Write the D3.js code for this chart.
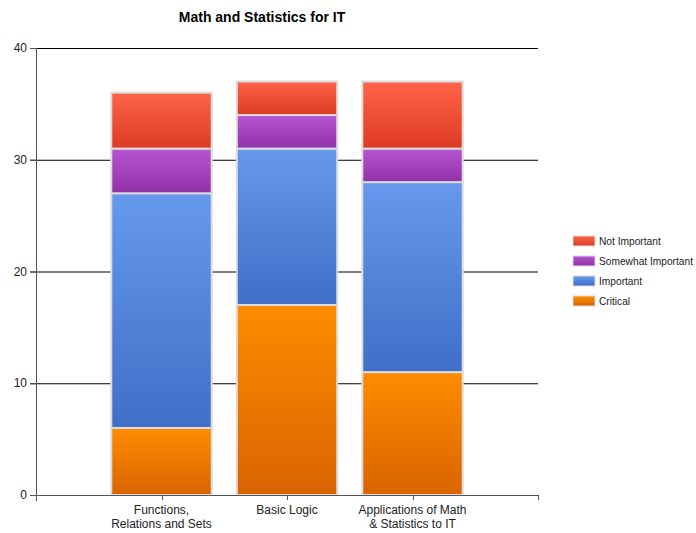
<html>
<style>
  body { margin: 0; background: #fff; font-family: "Liberation Sans", Arial, sans-serif; }
  .grid line { stroke: #000; }
  .axis text { font-size: 12px; fill: #222; }
</style>
<script src="https://d3js.org/d3.v7.min.js"></script>
<body>
<svg id="chart" width="696" height="533"></svg>
</body>
<script>
  const categories = ["Functions,\nRelations and Sets", "Basic Logic", "Applications of Math\n& Statistics to IT"]
  const series = ["Critical", "Important", "Somewhat Important", "Not Important"]
  const critical = [6, 17, 11]
  const important = [21, 14, 17]
  const somewhat = [4, 3, 3]
  const notImportant = [5, 3, 6]
  const yTicks = [0, 10, 20, 30, 40]

  const colors = {
    "Critical": ["#ff8c00", "#d96400"],
    "Important": ["#6699ee", "#3f6fc6"],
    "Somewhat Important": ["#b755d2", "#9230a8"],
    "Not Important": ["#ff6448", "#dc3b22"]
  }

  let svg = d3.select('#chart')
  let mLeft = 36, mRight = 538, mTop = 48, mBottom = 495

  let rows = categories.map((c, i) => ({
    cat: c,
    "Critical": critical[i],
    "Important": important[i],
    "Somewhat Important": somewhat[i],
    "Not Important": notImportant[i]
  }))
  let stacked = d3.stack().keys(series)(rows)

  let x = d3.scaleLinear().domain([0, categories.length + 1]).range([mLeft, mRight])
  let y = d3.scaleLinear().domain([0, 40]).range([mBottom, mTop])
  let bw = (x(1) - x(0)) * 0.8

  // gradients
  let defs = svg.append('defs')
  series.forEach((s, i) => {
    let g = defs.append('linearGradient').attr('id', 'g' + i)
      .attr('x1', 0).attr('y1', 0).attr('x2', 0).attr('y2', 1)
    g.append('stop').attr('offset', '0%').attr('stop-color', colors[s][0])
    g.append('stop').attr('offset', '100%').attr('stop-color', colors[s][1])
  })

  // title
  svg.append('text').attr('x', 262).attr('y', 22)
    .attr('text-anchor', 'middle').attr('font-weight', 'bold').attr('font-size', '14px')
    .text('Math and Statistics for IT')

  // gridlines
  svg.append('g').attr('class', 'grid')
    .selectAll('line').data(yTicks.filter(d => d > 0)).enter().append('line')
    .attr('x1', mLeft - 6).attr('x2', mRight)
    .attr('y1', d => y(d) + 0.5).attr('y2', d => y(d) + 0.5)

  // bars
  stacked.forEach((layer, i) => {
    svg.append('g').selectAll('rect').data(layer).enter().append('rect')
      .attr('x', (d, j) => x(j + 1) - bw / 2)
      .attr('width', bw)
      .attr('y', d => y(d[1]))
      .attr('height', d => y(d[0]) - y(d[1]))
      .attr('fill', 'url(#g' + i + ')')
      .attr('stroke', '#dcdcdc')
      .attr('stroke-width', 2)
  })

  // y axis
  let yAxis = svg.append('g').attr('class', 'axis')
  yAxis.append('line').attr('x1', mLeft + 0.5).attr('x2', mLeft + 0.5)
    .attr('y1', mTop).attr('y2', mBottom + 6).attr('stroke', '#555')
  yAxis.selectAll('line.t').data(yTicks).enter().append('line').attr('class', 't')
    .attr('x1', mLeft - 6).attr('x2', mLeft)
    .attr('y1', d => y(d) + 0.5).attr('y2', d => y(d) + 0.5).attr('stroke', '#555')
  yAxis.selectAll('text').data(yTicks).enter().append('text')
    .attr('x', mLeft - 9).attr('y', d => y(d) + 4)
    .attr('text-anchor', 'end').text(d => d)

  // x axis
  let xAxis = svg.append('g').attr('class', 'axis')
  xAxis.append('line').attr('x1', mLeft).attr('x2', mRight + 0.5)
    .attr('y1', mBottom + 0.5).attr('y2', mBottom + 0.5).attr('stroke', '#555')
  xAxis.selectAll('line.t').data(d3.range(1, categories.length + 2)).enter().append('line').attr('class', 't')
    .attr('x1', d => Math.round(x(d)) + 0.5).attr('x2', d => Math.round(x(d)) + 0.5)
    .attr('y1', mBottom).attr('y2', mBottom + 5).attr('stroke', '#555')
  categories.forEach((c, i) => {
    let t = xAxis.append('text').attr('text-anchor', 'middle')
    c.split('\n').forEach((ln, k) => {
      t.append('tspan').attr('x', x(i + 1)).attr('y', mBottom + 19 + k * 14).text(ln)
    })
  })

  // legend
  let legend = svg.append('g').attr('font-size', '10.2px')
  series.slice().reverse().forEach((s, i) => {
    let gy = 236 + i * 20
    legend.append('rect').attr('x', 573).attr('y', gy).attr('width', 22).attr('height', 10)
      .attr('fill', 'url(#g' + series.indexOf(s) + ')').attr('stroke', '#dcdcdc').attr('stroke-width', 1)
    legend.append('text').attr('x', 599).attr('y', gy + 9).attr('fill', '#222').text(s)
  })
</script>
</html>
